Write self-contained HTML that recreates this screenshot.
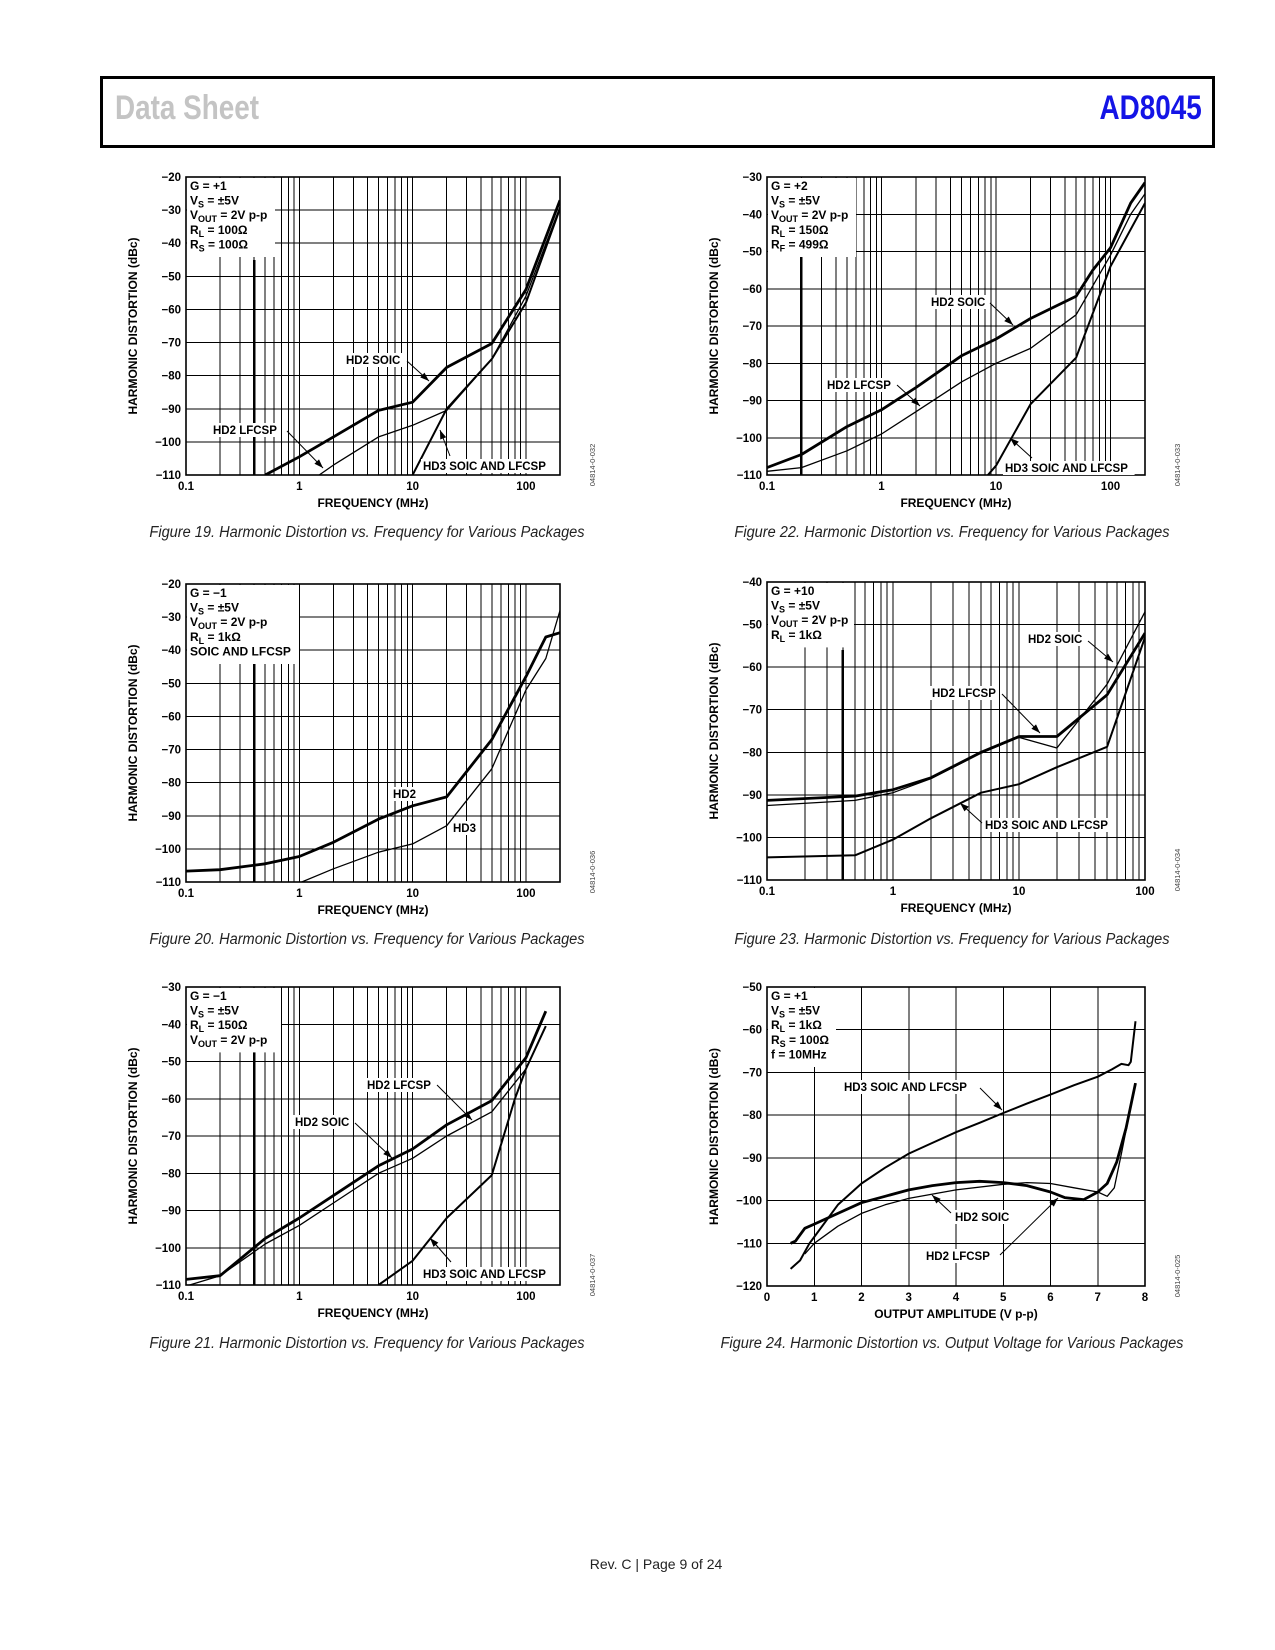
<!DOCTYPE html>
<html><head><meta charset="utf-8">
<style>
html,body{margin:0;padding:0;background:#fff;}
body{width:1275px;height:1650px;position:relative;overflow:hidden;font-family:"Liberation Sans",sans-serif;}
#hdr{position:absolute;left:100px;top:76px;width:1109px;height:66px;border:3px solid #000;}
#ds{position:absolute;left:12px;top:10px;font:bold 34px "Liberation Sans Narrow","Liberation Sans",sans-serif;color:#c4c4c4;transform:scaleX(0.82);transform-origin:left;}
#pn{position:absolute;right:10px;top:10px;font:bold 34px "Liberation Sans Narrow","Liberation Sans",sans-serif;color:#1414e6;transform:scaleX(0.82);transform-origin:right;}
.cap{position:absolute;font:italic 15.5px "Liberation Sans",sans-serif;color:#222;white-space:nowrap;transform:translateX(-50%) scaleX(0.94);}
#foot{position:absolute;left:656px;top:1556px;font:14px "Liberation Sans",sans-serif;color:#222;transform:translateX(-50%);white-space:nowrap;}
svg{position:absolute;left:0;top:0;}
</style></head><body>
<div id="hdr">
<div id="ds">Data Sheet</div>
<div id="pn">AD8045</div>
</div>
<div class="cap" style="left:367px;top:524px">Figure 19. Harmonic Distortion vs. Frequency for Various Packages</div>
<div class="cap" style="left:367px;top:931px">Figure 20. Harmonic Distortion vs. Frequency for Various Packages</div>
<div class="cap" style="left:367px;top:1335px">Figure 21. Harmonic Distortion vs. Frequency for Various Packages</div>
<div class="cap" style="left:952px;top:524px">Figure 22. Harmonic Distortion vs. Frequency for Various Packages</div>
<div class="cap" style="left:952px;top:931px">Figure 23. Harmonic Distortion vs. Frequency for Various Packages</div>
<div class="cap" style="left:952px;top:1335px">Figure 24. Harmonic Distortion vs. Output Voltage for Various Packages</div>
<div id="foot">Rev. C | Page 9 of 24</div>
<svg id="svg" width="1275" height="1650"></svg>
<script>
// ---------- Figure 19 ----------
const f19_hd2soic_x=[0.5,1,2,5,10,20,50,100,200];
const f19_hd2soic_y=[-110,-104.5,-98.5,-90.5,-88,-77.5,-70.3,-54,-27];
const f19_hd2lfcsp_x=[1.5,2,5,10,20,50,100,200];
const f19_hd2lfcsp_y=[-110,-107,-98.5,-95,-90.5,-75,-56,-29];
const f19_hd3_x=[10,20,50,100,200];
const f19_hd3_y=[-110,-90,-75,-58,-29.5];
// ---------- Figure 20 ----------
const f20_hd2_x=[0.1,0.2,0.5,1,2,5,10,20,50,100,150,200];
const f20_hd2_y=[-106.7,-106.3,-104.5,-102.3,-98,-91,-87,-84.3,-67,-48,-36,-34.7];
const f20_hd3_x=[1,2,5,10,20,50,100,150,200];
const f20_hd3_y=[-110.3,-106,-101,-98.5,-93,-75.8,-52,-42.5,-28];
// ---------- Figure 21 ----------
const f21_hd2soic_x=[0.1,0.2,0.5,1,2,5,10,20,50,100,150];
const f21_hd2soic_y=[-108.5,-107.5,-97.5,-92,-86,-78,-73.5,-67,-60.5,-49,-36.5];
const f21_hd2lfcsp_x=[0.1,0.2,0.5,1,2,5,10,20,50,100,150];
const f21_hd2lfcsp_y=[-110.3,-107.5,-99,-94,-88,-80,-76,-70,-63.5,-52,-40.5];
const f21_hd3_x=[5,10,20,50,80,100,150];
const f21_hd3_y=[-110,-103.5,-92,-80.5,-60,-52,-40.5];
// ---------- Figure 22 ----------
const f22_hd2soic_x=[0.1,0.2,0.5,1,2,5,10,20,50,70,100,150,200];
const f22_hd2soic_y=[-108,-104.5,-97,-92.5,-86.5,-78,-73.5,-68,-62,-55,-49,-37,-31.5];
const f22_hd2lfcsp_x=[0.1,0.2,0.5,1,2,5,10,20,50,100,150,200];
const f22_hd2lfcsp_y=[-109,-108,-103.5,-99,-93,-85,-80,-76,-67,-51,-40,-34.5];
const f22_hd3_x=[8.5,10,20,50,100,200];
const f22_hd3_y=[-110,-107.5,-91,-78.5,-54,-37];
// ---------- Figure 23 ----------
const f23_hd2soic_x=[0.1,0.5,1,2,5,10,20,50,100];
const f23_hd2soic_y=[-91.3,-90.3,-88.8,-86,-80,-76.3,-76.3,-66.5,-52];
const f23_hd2lfcsp_x=[0.1,0.5,1,2,5,10,20,50,100];
const f23_hd2lfcsp_y=[-92.5,-91.3,-89.5,-86.2,-80.2,-76.5,-79,-64,-47];
const f23_hd3_x=[0.1,0.5,1,2,5,10,20,50,100];
const f23_hd3_y=[-104.7,-104.2,-100.5,-95.5,-89.5,-87.5,-83.5,-78.7,-53];
// ---------- Figure 24 ----------
const f24_hd3_x=[0.5,0.7,0.9,1,1.5,2,2.5,3,3.5,4,4.5,5,5.5,6,6.5,7,7.3,7.5,7.65,7.7,7.8];
const f24_hd3_y=[-116,-114,-110,-108.5,-101,-96,-92.3,-89,-86.5,-84,-81.8,-79.5,-77.3,-75.2,-73,-71,-69.3,-68,-68.3,-67.5,-58];
const f24_hd2soic_x=[0.5,0.6,0.8,1,1.5,2,2.5,3,3.5,4,4.5,5,5.5,6,6.3,6.7,7,7.2,7.4,7.6,7.8];
const f24_hd2soic_y=[-110,-109.5,-106.5,-105.5,-103,-100.5,-99,-97.5,-96.5,-95.8,-95.5,-95.8,-96.5,-98,-99.3,-99.8,-98,-96,-91,-83,-72.5];
const f24_hd2lfcsp_x=[0.8,1,1.5,2,2.5,3,4,5,5.5,6,6.5,7,7.2,7.35,7.5,7.8];
const f24_hd2lfcsp_y=[-112.5,-110,-106,-103,-101,-99.5,-97.5,-96.2,-95.8,-96,-97,-98,-99,-97,-89,-72.5];
// tick labels
const freqTicks=[0.1,1,10,100];
const freqTickLabels=["0.1","1","10","100"];
const voltTicks=[0,1,2,3,4,5,6,7,8];

const NS="http://www.w3.org/2000/svg";
const svg=document.getElementById('svg');
function mk(tag,attrs,parent){const e=document.createElementNS(NS,tag);for(const k in attrs)e.setAttribute(k,attrs[k]);(parent||svg).appendChild(e);return e;}
function fmt(v){return v<0?'\u2212'+Math.abs(v):String(v);}

function chart(cfg){
  const g=mk('g',{});
  
  
  const L=cfg.L,T=cfg.T,W=cfg.W,H=cfg.H;
  const sx=cfg.log?(v=>L+(Math.log10(v)-Math.log10(cfg.xmin))/(Math.log10(cfg.xmax)-Math.log10(cfg.xmin))*W)
                 :(v=>L+(v-cfg.xmin)/(cfg.xmax-cfg.xmin)*W);
  const sy=v=>T+(cfg.ymax-v)/(cfg.ymax-cfg.ymin)*H;
  const grid=mk('g',{stroke:'#000','stroke-width':1,'shape-rendering':'crispEdges'},g);
  
  
  if(cfg.log){
    for(let d=Math.log10(cfg.xmin);d<Math.log10(cfg.xmax);d++){
      for(let m=1;m<=9;m++){const v=Math.pow(10,d)*m;if(v<=cfg.xmin||v>=cfg.xmax)continue;mk('line',{x1:sx(v),x2:sx(v),y1:T,y2:T+H},grid);}
    }
  } else {
    for(let v=cfg.xmin+1;v<cfg.xmax;v++)mk('line',{x1:sx(v),x2:sx(v),y1:T,y2:T+H},grid);
  }
  for(let v=cfg.ymin+10;v<cfg.ymax;v+=10)mk('line',{x1:L,x2:L+W,y1:sy(v),y2:sy(v)},grid);
  (cfg.thick||[]).forEach(v=>{mk('line',{x1:sx(v),x2:sx(v),y1:sy(cfg.thickTop),y2:T+H,'stroke-width':2.5},grid);});
  const lines=cfg.legend;
  const lb=mk('rect',{x:L+1,y:T+1,width:cfg.legW+4,height:lines.length*14.6+6,fill:'#fff'},g);
  
  
  lines.forEach((ln,i)=>{
    const t=mk('text',{x:L+4,y:T+13+i*14.6,'font-size':12,'font-weight':'bold','font-family':'Liberation Sans, sans-serif'},g);
    
    
    t.innerHTML=ln;
  });
  const b=mk('rect',{x:L,y:T,width:W,height:H,fill:'none',stroke:'#000','stroke-width':1.6},g);
  
  
  for(let v=cfg.ymin;v<=cfg.ymax;v+=10){
    const t=mk('text',{x:L-5,y:sy(v)+4,'text-anchor':'end','font-size':11.5,'font-weight':'bold'},g);
    
    
    t.textContent=fmt(v);
  }
  const xt=cfg.log?freqTicks:voltTicks;
  xt.forEach((v,i)=>{
    const t=mk('text',{x:sx(v),y:T+H+15,'text-anchor':'middle','font-size':11.5,'font-weight':'bold'},g);
    
    
    t.textContent=cfg.log?freqTickLabels[i]:String(v);
  });
  const xtitle=mk('text',{x:L+W/2,y:T+H+32,'text-anchor':'middle','font-size':12,'font-weight':'bold'},g);
  
  
  xtitle.textContent=cfg.xtitle;
  const yt=mk('text',{x:0,y:0,'text-anchor':'middle','font-size':12,'font-weight':'bold',transform:`translate(${L-49},${T+H/2}) rotate(-90)`},g);
  
  
  yt.textContent='HARMONIC DISTORTION (dBc)';
  const code=mk('text',{x:0,y:0,'text-anchor':'middle','font-size':7.5,fill:'#444',transform:`translate(${L+W+35},${T+H-10}) rotate(-90)`},g);
  
  
  code.textContent=cfg.code;
  const clip='c'+cfg.name;
  const cp=mk('clipPath',{id:clip},g);mk('rect',{x:L,y:T,width:W,height:H},cp);
  cfg.series.forEach(s=>{
    const d=s.x.map((v,i)=>(i?'L':'M')+sx(v).toFixed(1)+','+sy(s.y[i]).toFixed(1)).join(' ');
    const p=mk('path',{d:d,fill:'none',stroke:'#000','stroke-width':s.w,'stroke-linejoin':'round','clip-path':`url(#${clip})`},g);
    
    
  });
  (cfg.labels||[]).forEach(lb=>{
    const tw=lb.t.length*7.2;
    if(lb.bg){mk('rect',{x:lb.x-2,y:lb.y-11,width:tw+2,height:14,fill:'#fff'},g);}
    const t=mk('text',{x:lb.x,y:lb.y,'font-size':11.5,'font-weight':'bold'},g);
    
    
    t.textContent=lb.t;
    if(lb.a){
      const [x1,y1,x2,y2]=lb.a;
      mk('line',{x1:x1,y1:y1,x2:x2,y2:y2,stroke:'#000','stroke-width':1},g);
      const ang=Math.atan2(y2-y1,x2-x1),l=9,w=3.2;
      const bx=x2-l*Math.cos(ang),by=y2-l*Math.sin(ang);
      const px=-Math.sin(ang)*w,py=Math.cos(ang)*w;
      mk('polygon',{points:`${x2},${y2} ${bx+px},${by+py} ${bx-px},${by-py}`,fill:'#000'},g);
    }
  });
}
const sub=(t)=>`<tspan dy="3" font-size="9">${t}</tspan><tspan dy="-3">`;
const LS=186,RS=767,LW=374,RW=378,PH=298;

chart({name:'figure-19-chart',L:LS,T:177,W:LW,H:PH,log:true,xmin:0.1,xmax:200,ymin:-110,ymax:-20,xtitle:'FREQUENCY (MHz)',code:'04814-0-032',
 legend:['G = +1','V'+sub('S')+' = ±5V</tspan>','V'+sub('OUT')+' = 2V p-p</tspan>','R'+sub('L')+' = 100Ω</tspan>','R'+sub('S')+' = 100Ω</tspan>'],legW:84,
 thick:[0.4],thickTop:-45,
 series:[{name:'hd2-soic-line',x:f19_hd2soic_x,y:f19_hd2soic_y,w:2.8},{name:'hd2-lfcsp-line',x:f19_hd2lfcsp_x,y:f19_hd2lfcsp_y,w:1.3},{name:'hd3-line',x:f19_hd3_x,y:f19_hd3_y,w:2}],
 labels:[{t:'HD2 SOIC',x:346,y:364,bg:1,a:[407,361,429,381]},{t:'HD2 LFCSP',x:213,y:434,bg:1,a:[287,431,323,468]},{t:'HD3 SOIC AND LFCSP',x:423,y:470,bg:1,a:[450,456,440,430]}]});

chart({name:'figure-20-chart',L:LS,T:584,W:LW,H:PH,log:true,xmin:0.1,xmax:200,ymin:-110,ymax:-20,xtitle:'FREQUENCY (MHz)',code:'04814-0-036',
 legend:['G = −1','V'+sub('S')+' = ±5V</tspan>','V'+sub('OUT')+' = 2V p-p</tspan>','R'+sub('L')+' = 1kΩ</tspan>','SOIC AND LFCSP'],legW:108,
 thick:[0.4],thickTop:-44,
 series:[{name:'hd2-line',x:f20_hd2_x,y:f20_hd2_y,w:2.8},{name:'hd3-line',x:f20_hd3_x,y:f20_hd3_y,w:1.3}],
 labels:[{t:'HD2',x:393,y:798,bg:1},{t:'HD3',x:453,y:832,bg:1}]});

chart({name:'figure-21-chart',L:LS,T:987,W:LW,H:PH,log:true,xmin:0.1,xmax:200,ymin:-110,ymax:-30,xtitle:'FREQUENCY (MHz)',code:'04814-0-037',
 legend:['G = −1','V'+sub('S')+' = ±5V</tspan>','R'+sub('L')+' = 150Ω</tspan>','V'+sub('OUT')+' = 2V p-p</tspan>'],legW:90,
 thick:[0.4],thickTop:-47,
 series:[{name:'hd2-soic-line',x:f21_hd2soic_x,y:f21_hd2soic_y,w:2.8},{name:'hd2-lfcsp-line',x:f21_hd2lfcsp_x,y:f21_hd2lfcsp_y,w:1.3},{name:'hd3-line',x:f21_hd3_x,y:f21_hd3_y,w:2}],
 labels:[{t:'HD2 LFCSP',x:367,y:1089,bg:1,a:[437,1085,472,1120]},{t:'HD2 SOIC',x:295,y:1126,bg:1,a:[355,1123,392,1158]},{t:'HD3 SOIC AND LFCSP',x:423,y:1278,bg:1,a:[451,1262,430,1238]}]});

chart({name:'figure-22-chart',L:RS,T:177,W:RW,H:PH,log:true,xmin:0.1,xmax:200,ymin:-110,ymax:-30,xtitle:'FREQUENCY (MHz)',code:'04814-0-033',
 legend:['G = +2','V'+sub('S')+' = ±5V</tspan>','V'+sub('OUT')+' = 2V p-p</tspan>','R'+sub('L')+' = 150Ω</tspan>','R'+sub('F')+' = 499Ω</tspan>'],legW:84,
 thick:[0.2],thickTop:-50,
 series:[{name:'hd2-soic-line',x:f22_hd2soic_x,y:f22_hd2soic_y,w:2.8},{name:'hd2-lfcsp-line',x:f22_hd2lfcsp_x,y:f22_hd2lfcsp_y,w:1.3},{name:'hd3-line',x:f22_hd3_x,y:f22_hd3_y,w:2}],
 labels:[{t:'HD2 SOIC',x:931,y:306,bg:1,a:[990,303,1013,325]},{t:'HD2 LFCSP',x:827,y:389,bg:1,a:[897,385,920,406]},{t:'HD3 SOIC AND LFCSP',x:1005,y:472,bg:1,a:[1032,458,1010,438]}]});

chart({name:'figure-23-chart',L:RS,T:582,W:RW,H:PH,log:true,xmin:0.1,xmax:100,ymin:-110,ymax:-40,xtitle:'FREQUENCY (MHz)',code:'04814-0-034',
 legend:['G = +10','V'+sub('S')+' = ±5V</tspan>','V'+sub('OUT')+' = 2V p-p</tspan>','R'+sub('L')+' = 1kΩ</tspan>'],legW:82,
 thick:[0.4],thickTop:-56,
 series:[{name:'hd2-soic-line',x:f23_hd2soic_x,y:f23_hd2soic_y,w:2.8},{name:'hd2-lfcsp-line',x:f23_hd2lfcsp_x,y:f23_hd2lfcsp_y,w:1.3},{name:'hd3-line',x:f23_hd3_x,y:f23_hd3_y,w:2}],
 labels:[{t:'HD2 SOIC',x:1028,y:643,bg:1,a:[1088,641,1113,662]},{t:'HD2 LFCSP',x:932,y:697,bg:1,a:[1002,694,1040,733]},{t:'HD3 SOIC AND LFCSP',x:985,y:829,bg:1,a:[982,823,960,803]}]});

chart({name:'figure-24-chart',L:RS,T:987,W:RW,H:299,log:false,xmin:0,xmax:8,ymin:-120,ymax:-50,xtitle:'OUTPUT AMPLITUDE (V p-p)',code:'04814-0-025',
 legend:['G = +1','V'+sub('S')+' = ±5V</tspan>','R'+sub('L')+' = 1kΩ</tspan>','R'+sub('S')+' = 100Ω</tspan>','f = 10MHz'],legW:64,
 series:[{name:'hd3-line',x:f24_hd3_x,y:f24_hd3_y,w:2},{name:'hd2-soic-line',x:f24_hd2soic_x,y:f24_hd2soic_y,w:2.8},{name:'hd2-lfcsp-line',x:f24_hd2lfcsp_x,y:f24_hd2lfcsp_y,w:1.3}],
 labels:[{t:'HD3 SOIC AND LFCSP',x:844,y:1091,bg:1,a:[980,1088,1002,1110]},{t:'HD2 SOIC',x:955,y:1221,bg:1,a:[951,1213,932,1195]},{t:'HD2 LFCSP',x:926,y:1260,bg:1,a:[1000,1255,1058,1198]}]});
</script>
</body></html>
